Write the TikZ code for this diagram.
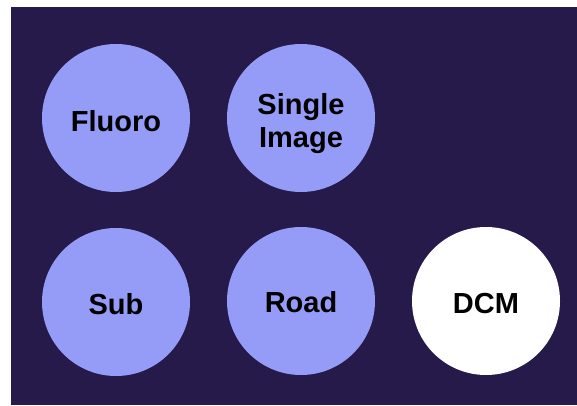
\documentclass[tikz,border=0pt]{standalone}
\usepackage{fontspec}
\setmainfont{Liberation Sans}
\definecolor{bgpurple}{HTML}{261A4A}
\definecolor{periw}{HTML}{959CF7}
\begin{document}
\begin{tikzpicture}[x=1pt,y=1pt,
  blob/.style={circle, fill=periw, minimum size=148pt, inner sep=0pt},
  blobw/.style={blob, fill=white},
  txt/.style={align=center, font=\fontsize{29}{33}\selectfont\bfseries, text=black, yshift=-3pt}]
\useasboundingbox (0,0) rectangle (577,405);
\fill[bgpurple] (11,0) rectangle (577,398);
\node[blob] (fluoro) at (116,287) {};
\node[txt] (fluorot) at (fluoro.center) {Fluoro};
\node[blob] (single) at (301,287) {};
\node[txt, yshift=-3pt] (singlet) at (single.center) {Single\\Image};
\node[blob] (sub) at (116,103) {};
\node[txt, yshift=1pt] (subt) at (sub.center) {Sub};
\node[blob] (road) at (301,104) {};
\node[txt, yshift=2pt] (roadt) at (road.center) {Road};
\node[blobw] (dcm) at (486,104) {};
\node[txt] (dcmt) at (dcm.center) {DCM};
\end{tikzpicture}
\end{document}
